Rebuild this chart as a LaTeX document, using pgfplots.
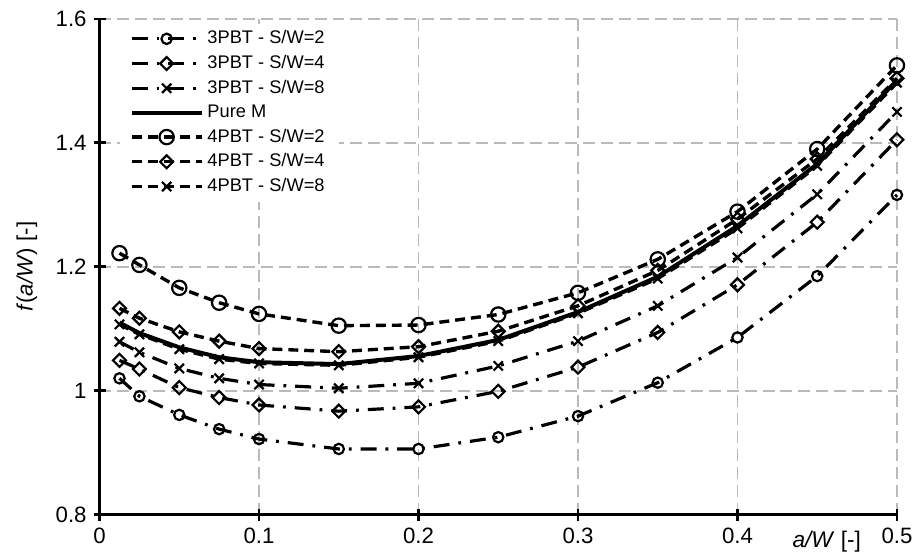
\documentclass[border=0pt]{standalone}
\usepackage{fontspec}
\setmainfont{Liberation Sans}
\usepackage{pgfplots}
\pgfplotsset{compat=1.18}
\begin{document}
\begin{tikzpicture}
\begin{axis}[
  set layers=standard,
  scale only axis, width=400.5bp, height=249bp,
  xmin=0, xmax=0.5, ymin=0.8, ymax=1.6,
  xtick={0,0.1,0.2,0.3,0.4,0.5},
  ytick={0.8,1,1.2,1.4,1.6},
  axis lines=left,
  axis line style={-, line width=1.6bp, black},
  tick align=center, major tick length=6bp,
  tick style={black, line width=1.4bp},
  grid=major,
  major grid style={black!27, line width=0.8bp, dash pattern=on 6bp off 3bp},
  tick label style={font=\fontsize{11.2}{13}\selectfont},
  /pgf/number format/assume math mode=true,
  xlabel={\textit{a/W} [-]},
  xlabel style={font=\fontsize{11.4}{13}\selectfont, at={(axis description cs:0.912,0)}, anchor=north, yshift=-4.5bp},
  ylabel={\textit{f}(\textit{a/W}) [-]},
  ylabel style={font=\fontsize{11.2}{13}\selectfont, at={(axis description cs:-0.091,0.5)}, anchor=center},
  legend style={at={(rel axis cs:0.025,0.991)}, anchor=north west, draw=none, fill=white,
    inner xsep=5bp, inner ysep=1.5bp, font=\fontsize{9.2}{10.5}\selectfont, row sep=0.3bp,
    /tikz/every even column/.append style={column sep=0bp}},
  legend cell align=left,
  legend image code/.code={\draw[mark repeat=2,mark phase=2] plot coordinates {(0bp,0bp)(17.5bp,0bp)(35bp,0bp)};},
  every axis plot/.append style={black},
  clip=false,
]
% 3PBT S/W=2
\addplot[line width=1.6bp, dash pattern=on 8bp off 4.5bp on 1.4bp off 4.5bp, mark=o, mark size=2.6bp, mark options={solid, fill=white, line width=1.1bp}]
coordinates {(0.0125,1.020)(0.025,0.991)(0.05,0.961)(0.075,0.938)(0.1,0.922)(0.15,0.906)(0.2,0.906)(0.25,0.925)(0.3,0.959)(0.35,1.013)(0.4,1.086)(0.45,1.185)(0.5,1.316)};
\addlegendentry{3PBT - S/W=2}
% 3PBT S/W=4
\addplot[line width=1.6bp, dash pattern=on 8bp off 4.5bp on 1.4bp off 4.5bp, mark=square, mark size=2.3bp, mark options={solid, fill=white, line width=1.1bp, rotate=45}]
coordinates {(0.0125,1.049)(0.025,1.035)(0.05,1.005)(0.075,0.989)(0.1,0.977)(0.15,0.967)(0.2,0.974)(0.25,0.999)(0.3,1.038)(0.35,1.094)(0.4,1.171)(0.45,1.272)(0.5,1.405)};
\addlegendentry{3PBT - S/W=4}
% 3PBT S/W=8
\addplot[line width=1.6bp, dash pattern=on 8bp off 4.5bp on 1.4bp off 4.5bp, mark=x, mark size=3.3bp, mark options={solid, line width=1.1bp}]
coordinates {(0.0125,1.079)(0.025,1.062)(0.05,1.036)(0.075,1.020)(0.1,1.010)(0.15,1.004)(0.2,1.012)(0.25,1.040)(0.3,1.080)(0.35,1.137)(0.4,1.215)(0.45,1.317)(0.5,1.450)};
\addlegendentry{3PBT - S/W=8}
% Pure M
\addplot[line width=2bp, solid, no marks]
coordinates {(0.0125,1.110)(0.025,1.093)(0.05,1.070)(0.075,1.054)(0.1,1.046)(0.15,1.043)(0.2,1.056)(0.25,1.082)(0.3,1.127)(0.35,1.184)(0.4,1.266)(0.45,1.366)(0.5,1.501)};
\addlegendentry{Pure M}
% 4PBT S/W=2
\addplot[line width=1.7bp, dash pattern=on 5bp off 3bp, mark=o, mark size=3.6bp, mark options={solid, fill=white, line width=1.1bp}]
coordinates {(0.0125,1.222)(0.025,1.203)(0.05,1.166)(0.075,1.142)(0.1,1.124)(0.15,1.105)(0.2,1.106)(0.25,1.123)(0.3,1.158)(0.35,1.212)(0.4,1.289)(0.45,1.390)(0.5,1.525)};
\addlegendentry{4PBT - S/W=2}
% 4PBT S/W=4
\addplot[line width=1.7bp, dash pattern=on 5bp off 3bp, mark=square, mark size=2.3bp, mark options={solid, fill=white, line width=1.1bp, rotate=45}]
coordinates {(0.0125,1.133)(0.025,1.117)(0.05,1.095)(0.075,1.080)(0.1,1.068)(0.15,1.063)(0.2,1.071)(0.25,1.096)(0.3,1.137)(0.35,1.194)(0.4,1.277)(0.45,1.374)(0.5,1.504)};
\addlegendentry{4PBT - S/W=4}
% 4PBT S/W=8
\addplot[line width=1.7bp, dash pattern=on 5bp off 3bp, mark=x, mark size=3.3bp, mark options={solid, line width=1.1bp}]
coordinates {(0.0125,1.107)(0.025,1.091)(0.05,1.067)(0.075,1.051)(0.1,1.044)(0.15,1.041)(0.2,1.054)(0.25,1.080)(0.3,1.125)(0.35,1.181)(0.4,1.262)(0.45,1.363)(0.5,1.497)};
\addlegendentry{4PBT - S/W=8}
\end{axis}
\path ([shift={(-50bp,-19.5bp)}]current axis.south west) rectangle ([shift={(9bp,9.5bp)}]current axis.north east);
\end{tikzpicture}
\end{document}
